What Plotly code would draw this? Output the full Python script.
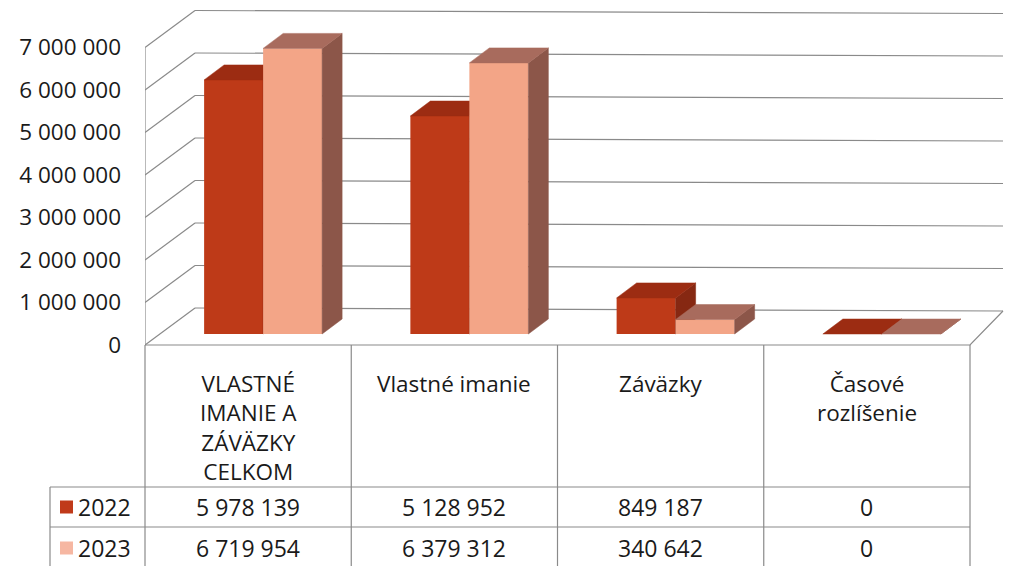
import plotly.graph_objects as go

# ---------------- data ----------------
categories = ["VLASTNÉ IMANIE A ZÁVÄZKY CELKOM", "Vlastné imanie", "Záväzky", "Časové rozlíšenie"]
header_labels = ["VLASTNÉ<br>IMANIE A<br>ZÁVÄZKY<br>CELKOM", "Vlastné imanie", "Záväzky", "Časové<br>rozlíšenie"]
years = ["2022", "2023"]
values_2022 = [5978139, 5128952, 849187, 0]
values_2023 = [6719954, 6379312, 340642, 0]
y_ticks = [0, 1000000, 2000000, 3000000, 4000000, 5000000, 6000000, 7000000]


def fmt(v):
    return f"{int(v):,}".replace(",", " ")


# ---------------- geometry / styling ----------------
W, H = 1017, 566
PL, PR = 145, 1012          # plot area left/right (px)
PT, PBOT = 5, 350           # plot area top/bottom (px)
ZERO_PX = 345               # pixel row of value 0 on the front plane
PXU = 206.25                # px per category
PYU = 42.5 / 1e6            # px per value unit
XMIN = -0.5
XMAX_CAT = len(categories) - 0.5
x_range = [XMIN, XMIN + (PR - PL) / PXU]
y_range = [-(PBOT - ZERO_PX) / PYU, (ZERO_PX - PT) / PYU]

FONT = "Open Sans"
FS_TICK = 22.5
FS_HEAD = 22.5
FS_NUM = 23
TXT = "#1a1a1a"
GRID = "#8a8a8a"

# depth vectors (screen px, y down)
WALL_L = (50, -37)
WALL_R = (33, -34)
BAR_FRONT = (15, -11)
BAR_BACK = (35, -26)
BW = 59 / PXU

COLORS = {
    "2022": {"front": "#BE3A18", "top": "#9C2C12", "side": "#862812", "leg": "#C03A1A"},
    "2023": {"front": "#F3A587", "top": "#A86B5D", "side": "#8C5649", "leg": "#F6B7A2"},
}


def ux(p):
    return p / PXU


def uy(p):
    return -p / PYU


def px_x(xv):
    return PL + (xv - XMIN) * PXU


def paper_x(px):
    return (px - PL) / (PR - PL)


def paper_y(py):
    return (PBOT - py) / (PBOT - PT)


fig = go.Figure()

# ---------------- walls / grid (main axes) ----------------
gx, gy = [], []
for v in y_ticks:
    gx += [XMIN + ux(WALL_L[0]), XMAX_CAT + ux(WALL_R[0]), None]
    gy += [v + uy(WALL_L[1]), v + uy(WALL_R[1]), None]
    gx += [XMIN, XMIN + ux(WALL_L[0]), None]
    gy += [v, v + uy(WALL_L[1]), None]
gx += [XMIN, XMIN, None]
gy += [0, max(y_ticks), None]
gx += [XMIN, XMAX_CAT, XMAX_CAT + ux(WALL_R[0]), None]
gy += [0, 0, uy(WALL_R[1]), None]
fig.add_trace(go.Scatter(x=gx, y=gy, mode="lines", line=dict(color=GRID, width=1.2),
                         hoverinfo="skip", showlegend=False, xaxis="x", yaxis="y"))

# ---------------- 3D bars ----------------
fx, fy = ux(BAR_FRONT[0]), uy(BAR_FRONT[1])
bx, by = ux(BAR_BACK[0]), uy(BAR_BACK[1])

for k, (yr, vals) in enumerate(zip(years, [values_2022, values_2023])):
    yaxis = "y2" if k == 0 else "y3"
    col = COLORS[yr]
    offs = -BW if k == 0 else 0.0
    sx, sy, tx, ty = [], [], [], []
    for i, v in enumerate(vals):
        x0 = i + offs
        x1 = x0 + BW
        tx += [x0 + fx, x1 + fx, x1 + bx, x0 + bx, x0 + fx, None]
        ty += [v + fy, v + fy, v + by, v + by, v + fy, None]
        sx += [x1 + fx, x1 + bx, x1 + bx, x1 + fx, x1 + fx, None]
        sy += [fy, by, v + by, v + fy, fy, None]
    fig.add_trace(go.Scatter(x=sx, y=sy, mode="lines", fill="toself", fillcolor=col["side"],
                             line=dict(width=0.5, color=col["side"]), hoverinfo="skip",
                             showlegend=False, xaxis="x", yaxis=yaxis))
    fig.add_trace(go.Scatter(x=tx, y=ty, mode="lines", fill="toself", fillcolor=col["top"],
                             line=dict(width=0.5, color=col["top"]), hoverinfo="skip",
                             showlegend=False, xaxis="x", yaxis=yaxis))
    fig.add_trace(go.Bar(x=[i + fx for i in range(len(vals))], y=vals, base=fy,
                         width=BW, offset=offs, name=yr,
                         marker=dict(color=col["front"], line=dict(width=0)),
                         showlegend=False, xaxis="x", yaxis=yaxis,
                         customdata=categories,
                         hovertemplate="%{customdata}: %{y}<extra>" + yr + "</extra>"))

# ---------------- data table ----------------
shapes = []
annotations = []
T_TOP, R1, R2, T_BOT = ZERO_PX, 487, 527, 570
LEG_L = 50
col_edges = [px_x(XMIN + j) for j in range(len(categories) + 1)]
line_style = dict(color=GRID, width=1.2)
for xe in col_edges:
    shapes.append(dict(type="line", xref="paper", yref="paper", x0=paper_x(xe), x1=paper_x(xe),
                       y0=paper_y(T_TOP), y1=paper_y(T_BOT), line=line_style))
shapes.append(dict(type="line", xref="paper", yref="paper", x0=paper_x(LEG_L), x1=paper_x(LEG_L),
                   y0=paper_y(R1), y1=paper_y(T_BOT), line=line_style))
for ry in (R1, R2):
    shapes.append(dict(type="line", xref="paper", yref="paper", x0=paper_x(LEG_L), x1=paper_x(col_edges[-1]),
                       y0=paper_y(ry), y1=paper_y(ry), line=line_style))

for i, lab in enumerate(header_labels):
    annotations.append(dict(text=lab, xref="paper", yref="paper", x=paper_x(px_x(i)), y=paper_y(366),
                            xanchor="center", yanchor="top", align="center", showarrow=False,
                            font=dict(family=FONT, size=FS_HEAD, color=TXT)))

row_centers = [507, 548]
for yr, vals, rc in zip(years, [values_2022, values_2023], row_centers):
    shapes.append(dict(type="rect", xref="paper", yref="paper", x0=paper_x(60), x1=paper_x(73),
                       y0=paper_y(rc - 6.5), y1=paper_y(rc + 6.5), fillcolor=COLORS[yr]["leg"],
                       line=dict(width=0)))
    annotations.append(dict(text=yr, xref="paper", yref="paper", x=paper_x(76), y=paper_y(rc),
                            xanchor="left", yanchor="middle", showarrow=False,
                            font=dict(family=FONT, size=FS_NUM, color=TXT)))
    for i, v in enumerate(vals):
        annotations.append(dict(text=fmt(v), xref="paper", yref="paper", x=paper_x(px_x(i)), y=paper_y(rc),
                                xanchor="center", yanchor="middle", showarrow=False,
                                font=dict(family=FONT, size=FS_NUM, color=TXT)))

axis_common = dict(range=y_range, showgrid=False, zeroline=False, showline=False, fixedrange=True)
fig.update_layout(
    width=W, height=H,
    margin=dict(l=PL, r=W - PR, t=PT, b=H - PBOT, autoexpand=False),
    paper_bgcolor="white", plot_bgcolor="white",
    barmode="overlay",
    showlegend=False,
    font=dict(family=FONT, size=FS_NUM, color=TXT),
    xaxis=dict(range=x_range, showgrid=False, zeroline=False, showline=False,
               showticklabels=False, ticks="", fixedrange=True),
    yaxis=dict(**axis_common, tickvals=y_ticks, ticktext=[fmt(v) for v in y_ticks],
               ticks="", ticklabelstandoff=23,
               tickfont=dict(family=FONT, size=FS_TICK, color=TXT)),
    yaxis2=dict(**axis_common, overlaying="y", visible=False),
    yaxis3=dict(**axis_common, overlaying="y", visible=False),
    shapes=shapes,
    annotations=annotations,
)

fig.write_html("out.html", config={"displayModeBar": False},
               post_script="document.body.style.margin='0';document.body.style.overflow='hidden';")
